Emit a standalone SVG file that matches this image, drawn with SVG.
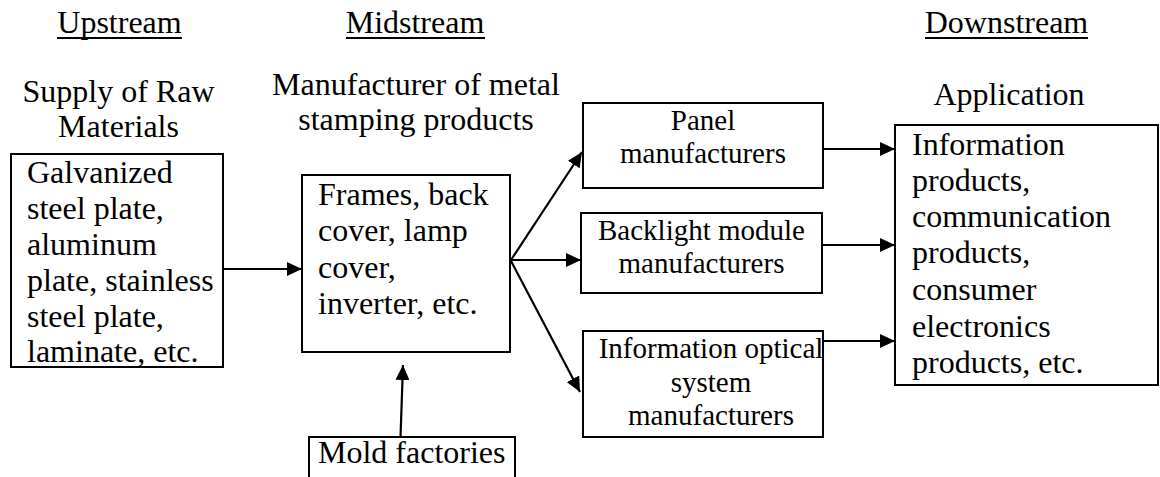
<svg xmlns="http://www.w3.org/2000/svg" width="1160" height="477" viewBox="0 0 1160 477" font-family="Liberation Serif, Times New Roman, Times, serif">
<defs>
<style>
text{font-family:'Liberation Serif','Times New Roman',Times,serif;fill:#000}
.t32{font-size:32px}
.t29{font-size:29px}
.c{text-anchor:middle}
.box{fill:#fff;stroke:#000;stroke-width:2}
.ln{stroke:#000;stroke-width:2.2;fill:none}
.ul{stroke:#000;stroke-width:2}
</style>
<marker id="ah" markerUnits="userSpaceOnUse" markerWidth="16" markerHeight="14" refX="15" refY="7" orient="auto">
<path d="M0,0 L15,7 L0,14 z" fill="#000"/>
</marker>
</defs>
<rect width="1160" height="477" fill="#fff"/>

<g id="headers">
<text class="t32 c" x="119.5" y="33">Upstream</text>
<line class="ul" x1="57" y1="38" x2="182" y2="38"/>
<text class="t32 c" x="415" y="33">Midstream</text>
<line class="ul" x1="346" y1="38" x2="485" y2="38"/>
<text class="t32 c" x="1006.5" y="33">Downstream</text>
<line class="ul" x1="925" y1="38" x2="1088" y2="38"/>
<text class="t32 c" x="118.5" y="102">Supply of Raw</text>
<text class="t32 c" x="118.5" y="137">Materials</text>
<text class="t32 c" x="416" y="95">Manufacturer of metal</text>
<text class="t32 c" x="416" y="130">stamping products</text>
<text class="t32 c" x="1009" y="105">Application</text>
</g>

<g id="connectors">
<line class="ln" x1="223" y1="269" x2="302" y2="269" marker-end="url(#ah)"/>
<line class="ln" x1="400.5" y1="437" x2="403" y2="365" marker-end="url(#ah)"/>
<line class="ln" x1="511" y1="260" x2="582" y2="152" marker-end="url(#ah)"/>
<line class="ln" x1="511" y1="260" x2="581" y2="260" marker-end="url(#ah)"/>
<line class="ln" x1="511" y1="261" x2="580" y2="392" marker-end="url(#ah)"/>
<line class="ln" x1="823" y1="149" x2="895" y2="149" marker-end="url(#ah)"/>
<line class="ln" x1="822" y1="245" x2="895" y2="245" marker-end="url(#ah)"/>
<line class="ln" x1="823" y1="341" x2="895" y2="341" marker-end="url(#ah)"/>
</g>

<g id="raw-materials">
<rect class="box" x="11" y="154" width="212" height="213"/>
<text class="t32" x="27" y="183">Galvanized</text>
<text class="t32" x="27" y="219">steel plate,</text>
<text class="t32" x="27" y="255">aluminum</text>
<text class="t32" x="27" y="291">plate, stainless</text>
<text class="t32" x="27" y="327">steel plate,</text>
<text class="t32" x="27" y="362">laminate, etc.</text>
</g>

<g id="stamping-products">
<rect class="box" x="302" y="175" width="208" height="177"/>
<text class="t32" x="318" y="205">Frames, back</text>
<text class="t32" x="318" y="241">cover, lamp</text>
<text class="t32" x="318" y="278">cover,</text>
<text class="t32" x="318" y="314">inverter, etc.</text>
</g>

<g id="mold-factories">
<rect class="box" x="309" y="437" width="206" height="50"/>
<text class="t32" x="318" y="463">Mold factories</text>
</g>

<g id="panel">
<rect class="box" x="583" y="103" width="240" height="85"/>
<text class="t29 c" x="703" y="130">Panel</text>
<text class="t29 c" x="703" y="163">manufacturers</text>
</g>

<g id="backlight">
<rect class="box" x="581" y="213" width="241" height="80"/>
<text class="t29 c" x="701.5" y="240">Backlight module</text>
<text class="t29 c" x="701.5" y="273">manufacturers</text>
</g>

<g id="info-optical">
<rect class="box" x="583" y="331" width="240" height="106"/>
<text class="t29 c" x="711" y="358">Information optical</text>
<text class="t29 c" x="711" y="392">system</text>
<text class="t29 c" x="711" y="425">manufacturers</text>
</g>

<g id="application">
<rect class="box" x="895" y="125" width="263" height="260"/>
<text class="t32" x="912" y="155">Information</text>
<text class="t32" x="912" y="191">products,</text>
<text class="t32" x="912" y="227">communication</text>
<text class="t32" x="912" y="263">products,</text>
<text class="t32" x="912" y="300">consumer</text>
<text class="t32" x="912" y="337">electronics</text>
<text class="t32" x="912" y="373">products, etc.</text>
</g>
</svg>
